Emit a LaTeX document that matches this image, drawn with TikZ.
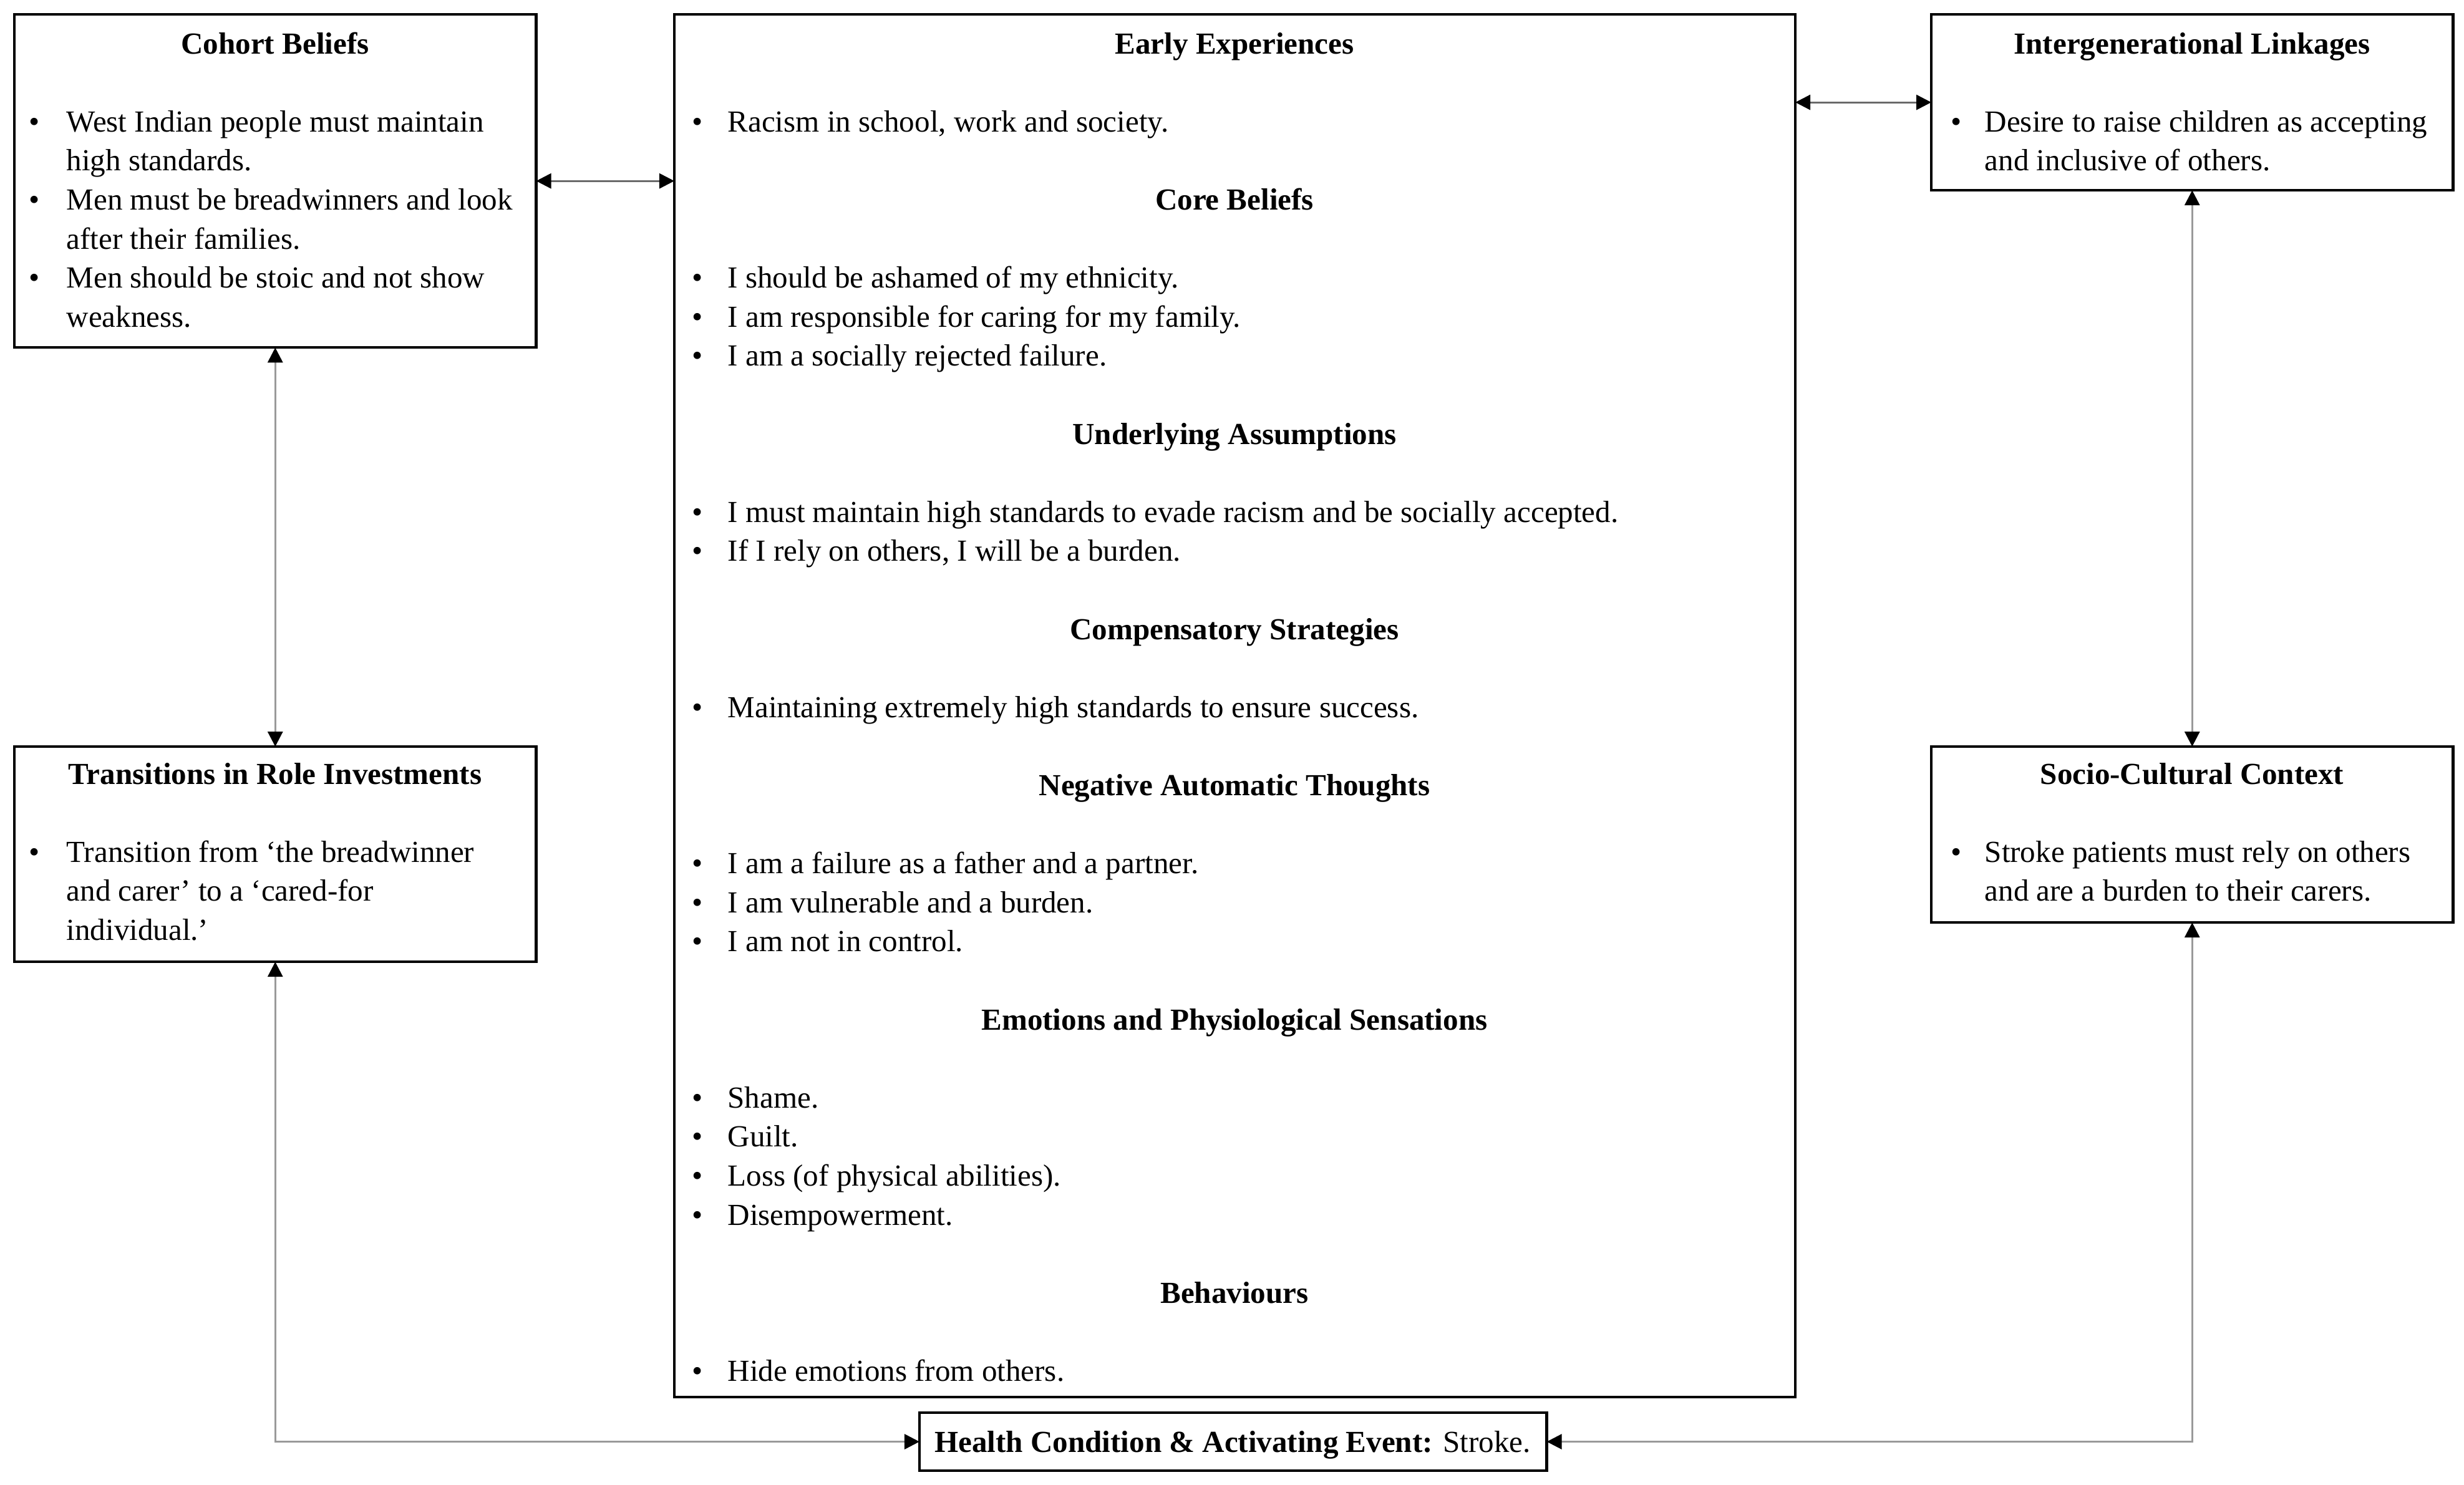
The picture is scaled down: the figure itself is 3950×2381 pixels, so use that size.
\documentclass[tikz,border=0pt]{standalone}
\usepackage{fontspec}
\setmainfont{Liberation Serif}
\usetikzlibrary{arrows.meta}
\definecolor{linkgray}{HTML}{9A9A9A}
\definecolor{linkdark}{HTML}{6A6A6A}
\newcommand\bodysize{\fontsize{13.95pt}{17.8pt}\selectfont}
\tikzset{
  box/.style={draw=black, line width=1.2pt, fill=white, inner sep=0pt, outer sep=0pt, anchor=north west},
  txt/.style={anchor=base west, inner sep=0pt, font=\bodysize},
  head/.style={anchor=base, inner sep=0pt, font={\bodysize\bfseries}},
  bul/.style={anchor=base, inner sep=0pt, font=\bodysize},
  link/.style={draw=linkgray, line width=0.9pt, {Triangle[length=0.24cm, width=0.24cm, color=black]}-{Triangle[length=0.24cm, width=0.24cm, color=black]}},
  linkd/.style={link, draw=linkdark}
}
\begin{document}
\begin{tikzpicture}[x=0.01cm, y=-0.01cm, font=\bodysize]
\useasboundingbox (0,0) rectangle (3950,2381);
\fill[white] (0,0) rectangle (3950,2381);

% boxes
\node[box, minimum width=8.36cm, minimum height=5.34cm] (cohort) at (23,23) {};
\node[box, minimum width=17.96cm, minimum height=22.16cm] (center) at (1081,23) {};
\node[box, minimum width=8.36cm, minimum height=2.82cm] (inter) at (3096,23) {};
\node[box, minimum width=8.36cm, minimum height=3.45cm] (trans) at (23,1197) {};
\node[box, minimum width=8.36cm, minimum height=2.82cm] (socio) at (3096,1197) {};
\node[box, minimum width=10.05cm, minimum height=0.93cm] (health) at (1474,2265) {};

% connectors
\draw[linkd] (cohort.east) -- (center.west |- cohort.east);
\draw[linkd] (center.east |- inter.west) -- (inter.west);
\draw[link] (cohort.south) -- (trans.north);
\draw[link] (inter.south) -- (socio.north);
\draw[link] (trans.south) |- (health.west);
\draw[link] (socio.south) |- (health.east);

\begin{scope}[yshift=-0.03cm]
% Cohort Beliefs
\node[head] (cbh) at (441,83) {Cohort Beliefs};
\node[bul] (cbb1) at (55,208.2) {•};
\node[txt] (cbt1) at (106,208.2) {West Indian people must maintain};
\node[txt] (cbt2) at (106,270.8) {high standards.};
\node[bul] (cbb2) at (55,333.4) {•};
\node[txt] (cbt3) at (106,333.4) {Men must be breadwinners and look};
\node[txt] (cbt4) at (106,396) {after their families.};
\node[bul] (cbb3) at (55,458.6) {•};
\node[txt] (cbt5) at (106,458.6) {Men should be stoic and not show};
\node[txt] (cbt6) at (106,521.2) {weakness.};

% Transitions
\node[head] (trh) at (441,1254) {Transitions in Role Investments};
\node[bul] (trb1) at (55,1379.2) {•};
\node[txt] (trt1) at (106,1379.2) {Transition from ‘the breadwinner};
\node[txt] (trt2) at (106,1441.8) {and carer’ to a ‘cared-for};
\node[txt] (trt3) at (106,1504.4) {individual.’};

% Intergenerational
\node[head] (igh) at (3514,83) {Intergenerational Linkages};
\node[bul] (igb1) at (3136,208.2) {•};
\node[txt] (igt1) at (3181,208.2) {Desire to raise children as accepting};
\node[txt] (igt2) at (3181,270.8) {and inclusive of others.};

% Socio-Cultural
\node[head] (sch) at (3514,1254) {Socio-Cultural Context};
\node[bul] (scb1) at (3136,1379.2) {•};
\node[txt] (sct1) at (3181,1379.2) {Stroke patients must rely on others};
\node[txt] (sct2) at (3181,1441.8) {and are a burden to their carers.};

% Health
\node[anchor=base, inner sep=0pt] (hct) at (1976,2325) {\textbf{Health Condition \& Activating Event:} Stroke.};

% Center box
\node[head] (h1) at (1979,83) {Early Experiences};
\node[bul] (b1) at (1118,208.2) {•};
\node[txt] (l1) at (1166,208.2) {Racism in school, work and society.};

\node[head] (h2) at (1979,333.4) {Core Beliefs};
\node[bul] (b2) at (1118,458.6) {•};
\node[txt] (l2) at (1166,458.6) {I should be ashamed of my ethnicity.};
\node[bul] (b3) at (1118,521.2) {•};
\node[txt] (l3) at (1166,521.2) {I am responsible for caring for my family.};
\node[bul] (b4) at (1118,583.8) {•};
\node[txt] (l4) at (1166,583.8) {I am a socially rejected failure.};

\node[head] (h3) at (1979,709) {Underlying Assumptions};
\node[bul] (b5) at (1118,834.2) {•};
\node[txt] (l5) at (1166,834.2) {I must maintain high standards to evade racism and be socially accepted.};
\node[bul] (b6) at (1118,896.8) {•};
\node[txt] (l6) at (1166,896.8) {If I rely on others, I will be a burden.};

\node[head] (h4) at (1979,1022) {Compensatory Strategies};
\node[bul] (b7) at (1118,1147.2) {•};
\node[txt] (l7) at (1166,1147.2) {Maintaining extremely high standards to ensure success.};

\node[head] (h5) at (1979,1272.4) {Negative Automatic Thoughts};
\node[bul] (b8) at (1118,1397.6) {•};
\node[txt] (l8) at (1166,1397.6) {I am a failure as a father and a partner.};
\node[bul] (b9) at (1118,1460.2) {•};
\node[txt] (l9) at (1166,1460.2) {I am vulnerable and a burden.};
\node[bul] (b10) at (1118,1522.8) {•};
\node[txt] (l10) at (1166,1522.8) {I am not in control.};

\node[head] (h6) at (1979,1648) {Emotions and Physiological Sensations};
\node[bul] (b11) at (1118,1773.2) {•};
\node[txt] (l11) at (1166,1773.2) {Shame.};
\node[bul] (b12) at (1118,1835.8) {•};
\node[txt] (l12) at (1166,1835.8) {Guilt.};
\node[bul] (b13) at (1118,1898.4) {•};
\node[txt] (l13) at (1166,1898.4) {Loss (of physical abilities).};
\node[bul] (b14) at (1118,1961) {•};
\node[txt] (l14) at (1166,1961) {Disempowerment.};

\node[head] (h7) at (1979,2086.2) {Behaviours};
\node[bul] (b15) at (1118,2211.4) {•};
\node[txt] (l15) at (1166,2211.4) {Hide emotions from others.};
\end{scope}
\end{tikzpicture}
\end{document}
